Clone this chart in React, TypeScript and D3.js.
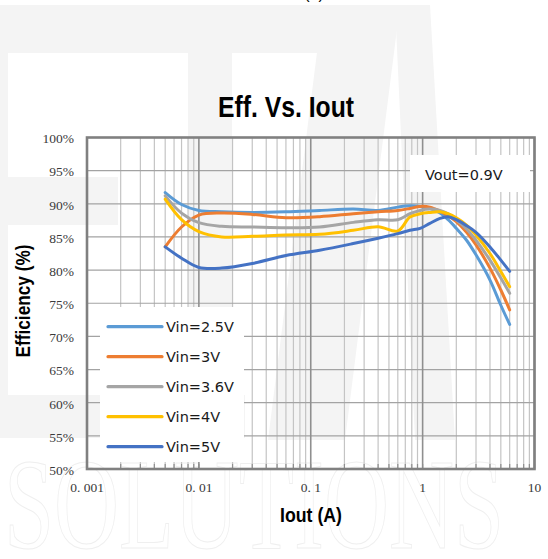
import * as d3 from "d3";

// load current (A) and efficiency (%)
const currents = [0.005, 0.007, 0.01, 0.016, 0.03, 0.06, 0.12, 0.24, 0.4, 0.6, 0.77, 0.95, 1.16, 1.43, 1.69, 2, 2.47, 3, 4, 5, 6];
const eff25 = [91.7, 89.9, 89.0, 88.8, 88.7, 88.8, 89.0, 89.2, 89.0, 89.5, 89.7, 89.6, 89.3, 88.6, 87.6, 86.3, 84.5, 82.3, 78.5, 74.7, 71.8];
const eff3 = [83.5, 86.5, 88.3, 88.6, 88.4, 87.9, 88.05, 88.5, 88.8, 89.0, 89.3, 89.6, 89.5, 88.9, 88.2, 87.3, 85.7, 83.8, 80.3, 77.0, 74.0];
const eff36 = [91.2, 88.6, 87.15, 86.6, 86.5, 86.4, 86.5, 87.2, 87.6, 87.6, 88.5, 89.0, 89.2, 89.0, 88.5, 87.6, 86.2, 84.5, 81.5, 78.8, 76.5];
const eff4 = [90.7, 87.6, 85.8, 85.0, 85.1, 85.3, 85.4, 86.0, 86.55, 85.9, 88.0, 88.5, 88.7, 88.8, 88.5, 87.9, 86.8, 85.3, 82.5, 79.8, 77.5];
const eff5 = [83.5, 81.8, 80.4, 80.3, 81.0, 82.2, 83.0, 84.0, 84.8, 85.5, 86.0, 86.3, 87.05, 87.8, 88.05, 87.6, 86.7, 85.7, 83.5, 81.5, 79.8];

const seriesNames = ["Vin=2.5V", "Vin=3V", "Vin=3.6V", "Vin=4V", "Vin=5V"];
const seriesColors = ["#5B9BD5", "#ED7D31", "#A5A5A5", "#FFC000", "#4472C4"];
const seriesValues = [eff25, eff3, eff36, eff4, eff5];

const yTicks = [50, 55, 60, 65, 70, 75, 80, 85, 90, 95, 100];
const xMajor = [0.001, 0.01, 0.1, 1, 10];
const xLabels = ["0. 001", "0. 01", "0. 1", "1", "10"];

const W = 548;
const H = 559;
const plot = { left: 87, right: 534.5, top: 137.5, bottom: 469 };

export default function App() {
  const x = d3.scaleLog().domain([0.001, 10]).range([plot.left, plot.right]);
  const y = d3.scaleLinear().domain([50, 100]).range([plot.bottom, plot.top]);

  const minor = x.ticks().filter((t) => !xMajor.some((m) => Math.abs(m - t) / m < 1e-6));

  const line = d3
    .line<number>()
    .x((_, i) => x(currents[i]))
    .y((d) => y(d))
    .curve(d3.curveCatmullRom.alpha(0.5));

  const wm = "#f4f4f4";

  return (
    <svg
      width={W}
      height={H}
      style={{ position: "absolute", left: 0, top: 0, background: "#fff" }}
    >
      {/* faint watermark in the background */}
      <g fill={wm}>
        <rect x={0} y={5} width={323} height={48} />
        <rect x={0} y={53} width={8} height={385} />
        <rect x={8} y={177} width={110} height={48} />
        <rect x={188} y={53} width={44} height={385} />
        <rect x={0} y={395} width={245} height={43} />
        <polygon points="323,5 400,5 345,440 268,440" />
        <polygon points="395,5 430,5 455,440 415,440" />
      </g>
      <text
        x={4}
        y={548}
        fontFamily="Liberation Serif, serif"
        fontSize={130}
        textLength={500}
        lengthAdjust="spacingAndGlyphs"
        fill="none"
        stroke="#efefef"
        strokeWidth={1}
      >
        SOLUTIONS
      </text>
      <text x={314} y={-1} textAnchor="middle" fontFamily="Liberation Sans, Arial" fontSize={16} fill="#000">
        (a)
      </text>

      {/* title */}
      <text
        x={286}
        y={116.5}
        textAnchor="middle"
        fontFamily="Liberation Sans Narrow, Liberation Sans, Arial"
        fontWeight="bold"
        fontSize={29}
        textLength={136}
        lengthAdjust="spacingAndGlyphs"
        fill="#000"
      >
        Eff. Vs. Iout
      </text>

      {/* grid */}
      <g>
        {minor.map((t) => (
          <line key={"mn" + t} x1={x(t)} x2={x(t)} y1={plot.top} y2={plot.bottom} stroke="#c4c4c4" strokeWidth={1.2} />
        ))}
        {yTicks.map((t) => (
          <line key={"h" + t} x1={plot.left} x2={plot.right} y1={y(t)} y2={y(t)} stroke="#a3a3a3" strokeWidth={1.2} />
        ))}
        {xMajor.map((t) => (
          <line key={"mj" + t} x1={x(t)} x2={x(t)} y1={plot.top} y2={plot.bottom} stroke="#8f8f8f" strokeWidth={1.6} />
        ))}
      </g>

      {/* curves */}
      <g fill="none" strokeWidth={3} strokeLinecap="round" strokeLinejoin="round">
        {seriesValues.map((vals, i) => (
          <path key={seriesNames[i]} d={line(vals) || ""} stroke={seriesColors[i]} />
        ))}
      </g>

      {/* legend */}
      <rect x={100} y={307} width={144} height={155} fill="#fff" />
      {seriesNames.map((name, i) => {
        const cy = 326.7 + i * 30;
        return (
          <g key={"lg" + name}>
            <line x1={108} x2={162} y1={cy} y2={cy} stroke={seriesColors[i]} strokeWidth={3.2} strokeLinecap="round" />
            <text x={166} y={cy} dominantBaseline="central" fontFamily="DejaVu Sans" fontSize={14.5} fill="#1a1a1a">
              {name}
            </text>
          </g>
        );
      })}

      {/* annotation */}
      <rect x={410} y={155} width={120} height={37} fill="#fff" />
      <text x={425} y={175} dominantBaseline="central" fontFamily="DejaVu Sans" fontSize={14.5} fill="#1a1a1a">
        Vout=0.9V
      </text>

      {/* small ticks on the bottom axis */}
      {x.ticks().map((t) => (
        <line key={"tk" + t} x1={x(t)} x2={x(t)} y1={plot.bottom} y2={plot.bottom - 5} stroke="#8f8f8f" strokeWidth={1.2} />
      ))}

      {/* frame */}
      <rect
        x={plot.left}
        y={plot.top}
        width={plot.right - plot.left}
        height={plot.bottom - plot.top}
        fill="none"
        stroke="#808080"
        strokeWidth={2.6}
      />

      {/* y tick labels */}
      {yTicks.map((t) => (
        <text key={"yl" + t} x={74} y={y(t) + 5.8} textAnchor="end" fontFamily="Liberation Serif, serif" fontSize={13.5} fill="#3a3a3a">
          {t + "%"}
        </text>
      ))}

      {/* x tick labels */}
      {xMajor.map((t, i) => (
        <text key={"xl" + t} x={x(t)} y={491.5} textAnchor="middle" fontFamily="Liberation Serif, serif" fontSize={13.5} fill="#3a3a3a">
          {xLabels[i]}
        </text>
      ))}

      {/* axis titles */}
      <text
        x={311}
        y={521.7}
        textAnchor="middle"
        fontFamily="Liberation Sans Narrow, Liberation Sans, Arial"
        fontWeight="bold"
        fontSize={19.5}
        textLength={62}
        lengthAdjust="spacingAndGlyphs"
        fill="#000"
      >
        Iout (A)
      </text>
      <text
        transform="translate(30,301) rotate(-90)"
        textAnchor="middle"
        fontFamily="Liberation Sans Narrow, Liberation Sans, Arial"
        fontWeight="bold"
        fontSize={19.5}
        textLength={113}
        lengthAdjust="spacingAndGlyphs"
        fill="#000"
      >
        Efficiency (%)
      </text>
    </svg>
  );
}
